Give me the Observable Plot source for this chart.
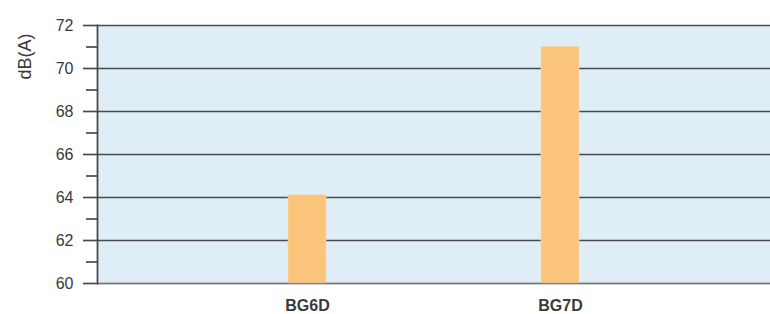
<!DOCTYPE html>
<html>
<head>
<meta charset="utf-8">
<script src="https://cdn.jsdelivr.net/npm/d3@7"></script>
<script src="https://cdn.jsdelivr.net/npm/@observablehq/plot@0.6"></script>
<style>
  html, body { margin: 0; padding: 0; background: #fff; }
  svg { display: block; }
</style>
</head>
<body>
<div id="chart"></div>
<script>
const categories = ["BG6D", "BG7D"];
const values = [64.1, 71.0];
const majorTicks = [60, 62, 64, 66, 68, 70, 72];
const minorTicks = [61, 63, 65, 67, 69, 71];
const yLabel = ["dB(A)"];

const data = categories.map((c, i) => ({category: c, value: values[i]}));

const chart = Plot.plot({
  width: 770,
  height: 314,
  marginLeft: 97,
  marginRight: 0,
  marginTop: 25,
  marginBottom: 31,
  style: {fontFamily: "Liberation Sans, Arial, sans-serif", color: "#3a3a3a", background: "#fff"},
  x: {domain: categories, paddingInner: 0.85, paddingOuter: 0.75, label: null},
  y: {domain: [60, 72], label: null},
  marks: [
    Plot.frame({fill: "#deedf6", stroke: null}),
    Plot.ruleY(majorTicks.filter(d => d > 60), {stroke: "#4a4a4a", strokeWidth: 1.7}),
    Plot.ruleY([60], {stroke: "#7a7a7a", strokeWidth: 1.7}),
    Plot.barY(data, {x: "category", y1: 60, y2: "value", fill: "#fbc47b", stroke: "#f5d9b0", strokeWidth: 0.6}),
    Plot.ruleY([60], {stroke: "#6f6f6f", strokeOpacity: 0.55, strokeWidth: 1.7}),
    Plot.axisY({ticks: majorTicks, tickSize: 14, tickPadding: 10, tickFormat: d => d, fontSize: 16, stroke: "#4a4a4a", strokeWidth: 1.7}),
    Plot.axisY({ticks: minorTicks, tickSize: 11, tickFormat: () => "", stroke: "#4a4a4a", strokeWidth: 1.7}),
    Plot.frame({anchor: "left", stroke: "#4a4a4a", strokeWidth: 1.8}),
    Plot.axisX({tickSize: 0, tickPadding: 16, fontSize: 16, fontWeight: "bold"}),
    Plot.text(yLabel, {frameAnchor: "top-left", rotate: -90, dx: -72, dy: 31, fontSize: 18, textAnchor: "middle", lineAnchor: "middle"})
  ]
});
document.getElementById("chart").appendChild(chart);
</script>
</body>
</html>
